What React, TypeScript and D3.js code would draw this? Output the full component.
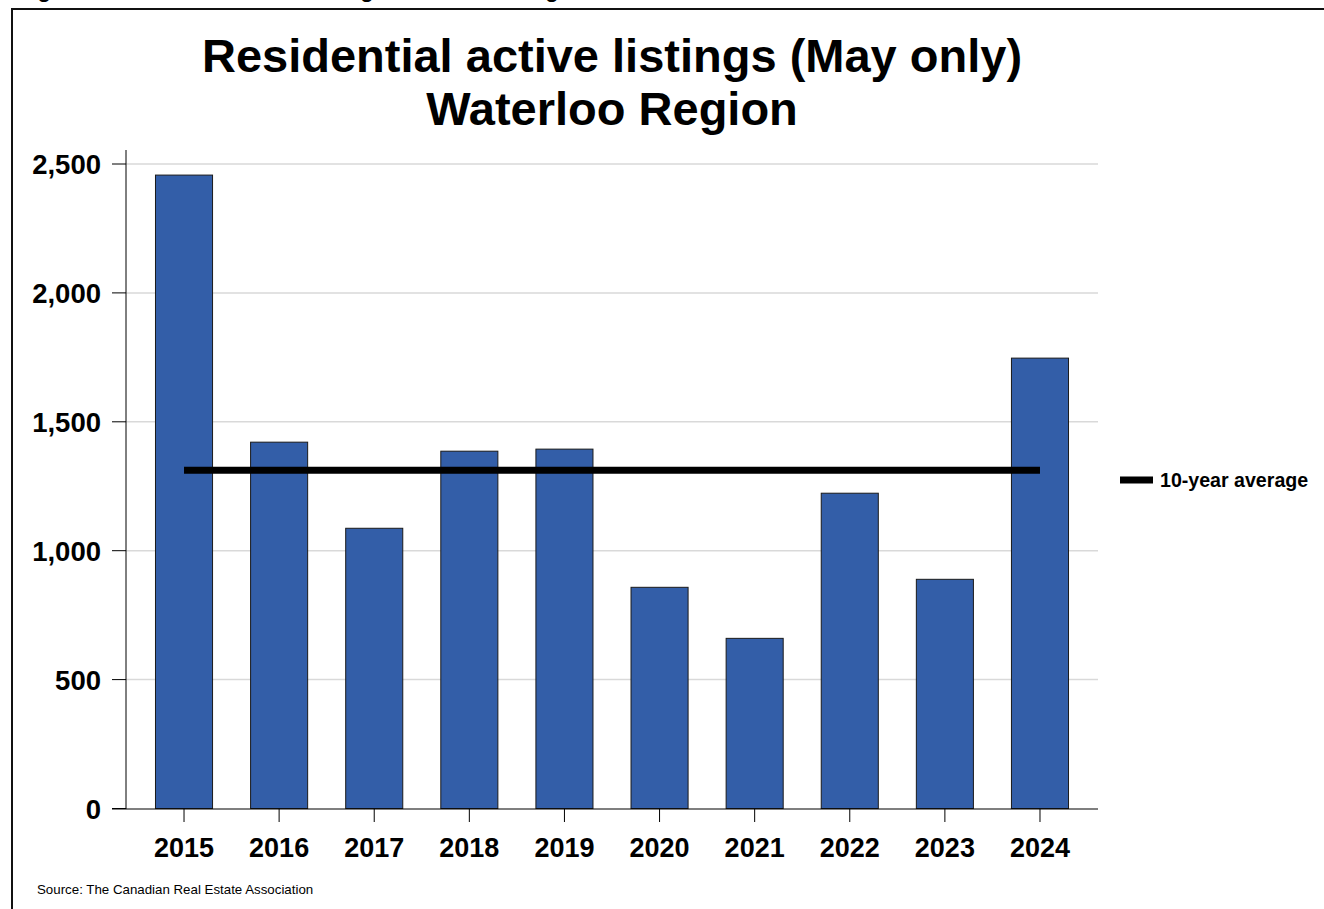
import { useEffect } from 'react';
import * as d3 from 'd3';

const years = ['2015', '2016', '2017', '2018', '2019', '2020', '2021', '2022', '2023', '2024'];
const listings = [2457, 1421, 1087, 1386, 1394, 858, 660, 1223, 889, 1747];
const yTicks = [0, 500, 1000, 1500, 2000, 2500];
const titleLines = ['Residential active listings (May only)', 'Waterloo Region'];
const caption = 'Figure 5: Residential active listings in Waterloo Region';
const legendLabel = '10-year average';
const source = 'Source: The Canadian Real Estate Association';

const W = 1324;
const H = 909;
const FONT = '"Liberation Sans", Arial, sans-serif';

const App = () => {
  useEffect(() => {
    document.body.style.margin = '0';
    document.body.style.overflow = 'hidden';
  }, []);

  const x = d3.scaleBand<string>()
    .domain(years)
    .range([126, 1098])
    .paddingInner(0.4)
    .paddingOuter(0.31);
  const y = d3.scaleLinear().domain([0, 2500]).range([808.5, 164]);
  const fmt = d3.format(',');
  const avg = d3.mean(listings) as number;

  const cx = (d: string) => (x(d) as number) + x.bandwidth() / 2;

  return (
    <svg width={W} height={H} style={{ display: 'block', background: '#fff' }} fontFamily={FONT}>
      {/* caption, mostly hidden above the frame like the source image */}
      <text x={18} y={-3} fontSize={22} fontWeight="bold" fill="#000">{caption}</text>

      <rect x={12} y={9} width={W + 20} height={H + 20} fill="#fff" stroke="#111" strokeWidth={2} />

      {titleLines.map((t, i) => (
        <text key={t} x={612} y={72 + i * 53} textAnchor="middle" fontSize={47} fontWeight="bold" fill="#000">
          {t}
        </text>
      ))}

      {/* gridlines */}
      {yTicks.filter(t => t > 0).map(t => (
        <line key={t} x1={126} x2={1098} y1={y(t)} y2={y(t)} stroke="#d9d9d9" strokeWidth={1.5} />
      ))}

      {/* bars */}
      {years.map((yr, i) => (
        <rect
          key={yr}
          x={x(yr)}
          y={y(listings[i])}
          width={x.bandwidth()}
          height={y(0) - y(listings[i])}
          fill="#335ea8"
          stroke="#1a1a1a"
          strokeWidth={1}
        />
      ))}

      {/* 10-year average */}
      <line x1={cx(years[0])} x2={cx(years[years.length - 1])} y1={y(avg)} y2={y(avg)} stroke="#000" strokeWidth={7} />

      {/* y axis */}
      <line x1={126} x2={126} y1={150} y2={809} stroke="#000" strokeWidth={1} />
      {yTicks.map(t => (
        <g key={t}>
          <line x1={112} x2={126} y1={y(t)} y2={y(t)} stroke="#000" strokeWidth={1} />
          <text x={101} y={y(t) + 10} textAnchor="end" fontSize={27.5} fontWeight="bold" fill="#000">
            {fmt(t)}
          </text>
        </g>
      ))}

      {/* x axis */}
      <line x1={112} x2={1098} y1={809} y2={809} stroke="#000" strokeWidth={1.2} />
      {years.map(yr => (
        <g key={yr}>
          <line x1={cx(yr)} x2={cx(yr)} y1={809} y2={822} stroke="#000" strokeWidth={1} />
          <text x={cx(yr)} y={857} textAnchor="middle" fontSize={27} fontWeight="bold" fill="#000">
            {yr}
          </text>
        </g>
      ))}

      {/* legend */}
      <line x1={1120} x2={1153} y1={480} y2={480} stroke="#000" strokeWidth={7} />
      <text x={1160} y={487} fontSize={19.6} fontWeight="bold" fill="#000">{legendLabel}</text>

      <text x={37} y={894} fontSize={13.3} fill="#000">{source}</text>
    </svg>
  );
};

export default App;
